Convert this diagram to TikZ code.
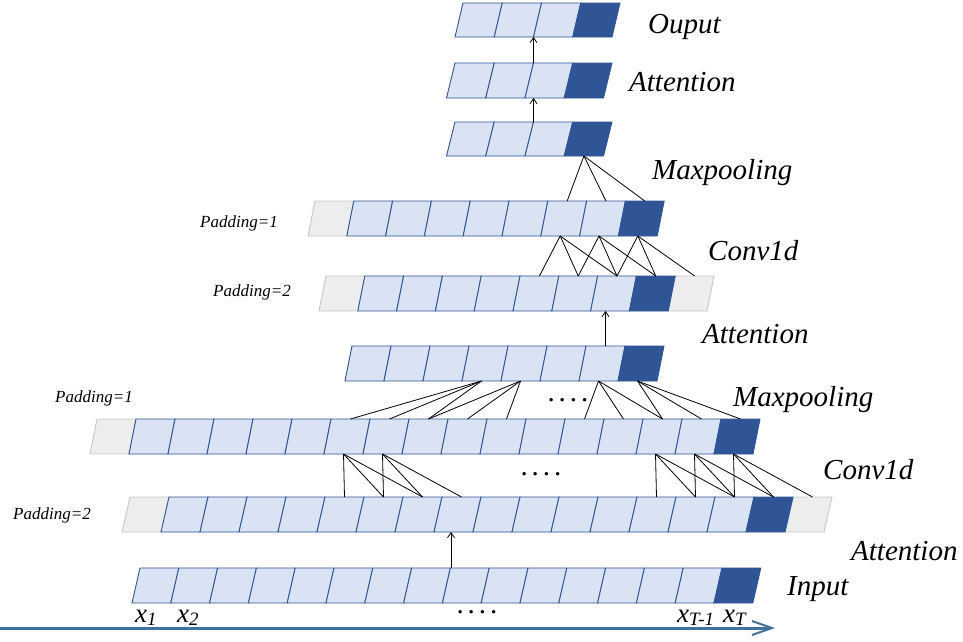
\documentclass[tikz,border=0pt]{standalone}
\usepackage{fontspec}
\setmainfont{Liberation Serif}
\usetikzlibrary{arrows.meta}
\definecolor{lightcell}{HTML}{DAE3F3}
\definecolor{bordblue}{HTML}{2F5597}
\definecolor{darkcell}{HTML}{2F5597}
\definecolor{graycell}{HTML}{EDEDED}
\definecolor{grayline}{HTML}{C8C8C8}
\definecolor{axisblue}{HTML}{41719C}
\tikzset{
  cellg/.style={fill=graycell,draw=grayline,line width=0.9pt},
  celll/.style={fill=lightcell,draw=bordblue,line width=0.9pt},
  celld/.style={fill=darkcell,draw=darkcell,line width=0.9pt},
  p1g/.style={cellg}, p1l/.style={}, p1d/.style={},
  p2g/.style={}, p2l/.style={celll}, p2d/.style={celld},
  conn/.style={draw=black,line width=0.8pt},
  upar/.style={draw=black,line width=0.8pt,-{Straight Barb[length=5pt,width=7pt]}},
  biglab/.style={font=\fontsize{29}{30}\selectfont\itshape,anchor=base west,inner sep=0pt},
  padlab/.style={font=\fontsize{17}{18}\selectfont\itshape,anchor=base west,inner sep=0pt},
  xlab/.style={font=\fontsize{27}{28}\selectfont\itshape,anchor=base west,inner sep=0pt},
  dotlab/.style={font=\fontsize{29}{30}\selectfont,anchor=base,inner sep=0pt},
}
\newcommand{\fourdots}{.\kern4pt.\kern4pt.\kern4pt.}
\newcommand{\cellrow}[7]{%
  \foreach \ct [count=\ci from 0] in {#7} {%
    \pgfmathsetmacro{\xa}{#2+\ci*#5}%
    \pgfmathsetmacro{\xb}{#2+(\ci+1)*#5}%
    \pgfmathsetmacro{\xc}{#2+(\ci+1)*#5-#6}%
    \pgfmathsetmacro{\xd}{#2+\ci*#5-#6}%
    \pgfmathsetmacro{\xm}{#2+(\ci+0.5)*#5}%
    \pgfmathsetmacro{\xn}{#2+(\ci+0.5)*#5-#6}%
    \coordinate (#1-\ci-t) at (\xm,#3);%
    \coordinate (#1-\ci-b) at (\xn,#4);%
    \path[p1\ct] (\xa,#3) -- (\xb,#3) -- (\xc,#4) -- (\xd,#4) -- cycle;%
  }%
  \foreach \ct [count=\ci from 0] in {#7} {%
    \pgfmathsetmacro{\xa}{#2+\ci*#5}%
    \pgfmathsetmacro{\xb}{#2+(\ci+1)*#5}%
    \pgfmathsetmacro{\xc}{#2+(\ci+1)*#5-#6}%
    \pgfmathsetmacro{\xd}{#2+\ci*#5-#6}%
    \path[p2\ct] (\xa,#3) -- (\xb,#3) -- (\xc,#4) -- (\xd,#4) -- cycle;%
  }%
}
\begin{document}
\begin{tikzpicture}[x=1pt,y=-1pt]
\useasboundingbox (0,0) rectangle (963,641);

% rows of cells
\cellrow{A}{463}{3}{37}{39.25}{8}{l,l,l,d}
\cellrow{B}{455}{63}{98}{39.25}{8.5}{l,l,l,d}
\cellrow{C}{455}{122}{156}{39.25}{8.5}{l,l,l,d}
\cellrow{D}{315}{201}{236}{38.8}{7}{g,l,l,l,l,l,l,l,d}
\cellrow{E}{326}{276}{311}{38.8}{7}{g,l,l,l,l,l,l,l,d,g}
\cellrow{F}{352}{346}{381}{39}{7}{l,l,l,l,l,l,l,d}
\cellrow{G}{97}{419}{454}{39}{7}{g,l,l,l,l,l,l,l,l,l,l,l,l,l,l,l,d}
\cellrow{H}{130}{497}{532}{39}{8}{g,l,l,l,l,l,l,l,l,l,l,l,l,l,l,l,d,g}
\cellrow{I}{140}{568}{603}{38.8}{8}{l,l,l,l,l,l,l,l,l,l,l,l,l,l,l,d}

% top maxpooling
\foreach \k in {6,7,8} \draw[conn] (C-3-b) -- (D-\k-t);
% top conv1d
\foreach \s in {6,7,8} {
  \foreach \d in {-1,0,1} {
    \pgfmathtruncatemacro{\tg}{\s+\d}
    \draw[conn] (D-\s-b) -- (E-\tg-t);
  }
}
% lower maxpooling
\foreach \s in {3,4,6,7} {
  \foreach \d in {0,1,2} {
    \pgfmathtruncatemacro{\tg}{2*\s+\d}
    \draw[conn] (F-\s-b) -- (G-\tg-t);
  }
}
% lower conv1d
\foreach \s in {6,7,14,15,16} {
  \foreach \d in {-1,0,1} {
    \pgfmathtruncatemacro{\tg}{\s+\d}
    \draw[conn] (G-\s-b) -- (H-\tg-t);
  }
}

% attention arrows
\coordinate (aCs) at (533.5,122); \coordinate (aCe) at (533.5,98);
\coordinate (aBs) at (533.5,63);  \coordinate (aBe) at (533.5,37);
\coordinate (aFs) at (605.5,346); \coordinate (aFe) at (605.5,311);
\coordinate (aIs) at (451,568);   \coordinate (aIe) at (451,532);
\draw[upar] (aCs) -- (aCe);
\draw[upar] (aBs) -- (aBe);
\draw[upar] (aFs) -- (aFe);
\draw[upar] (aIs) -- (aIe);

% layer labels
\node[biglab] (lout) at (648,33) {Ouput};
\node[biglab] (latt1) at (629,91) {Attention};
\node[biglab] (lmax1) at (652,179) {Maxpooling};
\node[biglab] (lconv1) at (708,260) {Conv1d};
\node[biglab] (latt2) at (702,343) {Attention};
\node[biglab] (lmax2) at (733,406) {Maxpooling};
\node[biglab] (lconv2) at (823,479) {Conv1d};
\node[biglab] (latt3) at (851,560) {Attention};
\node[biglab] (lin) at (787,595) {Input};

% padding labels
\node[padlab] (pad1a) at (200,227) {Padding=1};
\node[padlab] (pad2a) at (213,296) {Padding=2};
\node[padlab] (pad1b) at (55,402) {Padding=1};
\node[padlab] (pad2b) at (13,519) {Padding=2};

% ellipses
\node[dotlab] (dots1) at (568,401.5) {\fourdots};
\node[dotlab] (dots2) at (541,475.5) {\fourdots};
\node[dotlab] (dots3) at (477,613.5) {\fourdots};

% input indices
\node[xlab] (x1) at (135,622) {x\textsubscript{1}};
\node[xlab] (x2) at (177,622) {x\textsubscript{2}};
\node[xlab] (xT1) at (677,622) {x\textsubscript{T-1}};
\node[xlab] (xT) at (723,622) {x\textsubscript{T}};

% time axis
\coordinate (ax0) at (0,628);
\coordinate (ax1) at (775,628);
\draw[axisblue,line width=3pt,-{Straight Barb[length=20pt,width=14pt,line width=2pt]}] (ax0) -- (ax1);
\end{tikzpicture}
\end{document}
